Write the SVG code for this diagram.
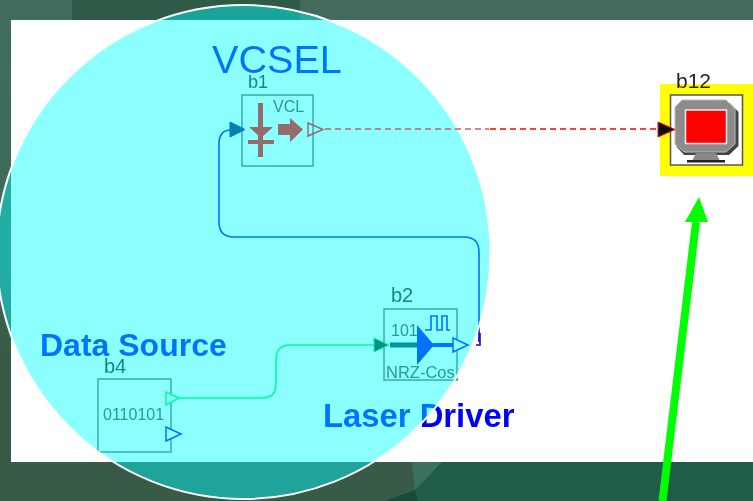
<svg xmlns="http://www.w3.org/2000/svg" width="753" height="501" viewBox="0 0 753 501">
<defs>
<filter id="soft" x="-5%" y="-5%" width="110%" height="110%"><feGaussianBlur stdDeviation="0.55"/></filter>
<linearGradient id="leftBg" x1="0" y1="0" x2="0" y2="1"><stop offset="0" stop-color="#3f6c5c"/><stop offset="0.55" stop-color="#3f6a5a"/><stop offset="0.7" stop-color="#385a47"/><stop offset="1" stop-color="#385846"/></linearGradient>
</defs>
<style>
.box{fill:none;stroke:#666;stroke-width:1.5}
.name{font:18px "Liberation Sans",Arial,sans-serif;fill:#222}
.big{font:20px "Liberation Sans",Arial,sans-serif;fill:#222}
.small{font:16px "Liberation Sans",Arial,sans-serif;fill:#444}
.title{font-family:"Liberation Sans",Arial,sans-serif;fill:#0000ff}
.port{fill:#fff;stroke-width:1.5}
.vcl{fill:#946c6c;stroke:none}
</style>
<g id="background">
<rect width="753" height="501" fill="#436b5b"/>
<rect width="72" height="501" fill="url(#leftBg)"/>
<rect x="72" width="228" height="30" fill="#2f5a48"/>
<polygon points="0,462 412,462 415,490 385,501 0,501" fill="#385a47"/>
<polygon points="412,462 753,462 753,501 418,501 415,490" fill="#205c4a"/>
<polygon points="412,462 442,462 415,490" fill="#3f705f"/>
<polygon points="385,501 415,490 418,501" fill="#164a3a"/>
<rect x="11" y="20" width="742" height="442" fill="#fff"/>
</g>
<g id="connectors" fill="none" filter="url(#soft)">
<path d="M479 342V252Q479 237 464 237H234Q219 237 219 222V144Q219 130 231 130" stroke="#0000ff" stroke-width="1.6"/>
<path d="M476 345H480V333" stroke="#2200cc" stroke-width="1.6"/>
<path d="M178 398H262Q276 398 276 384V360Q276 345 290 345H376" stroke="#00ff40" stroke-width="1.6"/>
<path d="M490 129H660" stroke="#ff0000" stroke-width="1.3" stroke-dasharray="6 4"/>
<path d="M662.500 501L696 222" stroke="#00ff00" stroke-width="8"/>
<polygon points="699,197 685,222 708,222" fill="#00ff00"/>
</g>
<g id="b1" filter="url(#soft)">
<text class="title" x="212" y="72.500" font-size="39.600">VCSEL</text>
<text class="name" x="248" y="88">b1</text>
<rect class="box" x="242" y="95" width="71" height="71"/>
<polygon points="230,122 230,137 245,129.500" fill="#002050" stroke="#0000ff"/>
<text class="small" x="273" y="112">VCL</text>
</g>
<g id="b2" filter="url(#soft)">
<text class="big" x="391" y="302">b2</text>
<rect class="box" x="384" y="309" width="73" height="71"/>
<polygon points="374,338 374,352 389,345" fill="#003020" stroke="#00ff40"/>
<path d="M390 345H418" stroke="#004050" stroke-width="5"/>
<polygon points="417,325 417,365 434,345" fill="#0000ff"/>
<path d="M433 345H453" stroke="#0000ff" stroke-width="4"/>
<path d="M425 330H431V316H437V330H442V316H447V330H450" fill="none" stroke="#0000ff" stroke-width="1.600"/>
<text class="small" x="391" y="336">101</text>
<text class="small" x="386" y="378" style="font-size:16.500px">NRZ-Cos</text>
<polygon class="port" points="453,338 453,352 468,345" stroke="#0000ff"/>
<text class="title" x="323" y="427" font-size="32.800" font-weight="bold">Laser Driver</text>
</g>
<g id="b4" filter="url(#soft)">
<text class="title" x="40" y="355.500" font-size="32" font-weight="bold">Data Source</text>
<text class="big" x="104" y="373">b4</text>
<rect class="box" x="98" y="379" width="73" height="73"/>
<text class="small" x="103" y="420">0110101</text>
<polygon class="port" points="166,392 166,405 179,398" stroke="#00ff40"/>
<polygon class="port" points="166,427 166,441 181,434" stroke="#0000ff"/>
</g>
<g id="b12" filter="url(#soft)">
<rect x="660" y="84" width="93" height="92" fill="#ffff00"/>
<text class="big" x="676" y="88" style="font-size:21px">b12</text>
<rect x="670.500" y="95" width="72" height="70" fill="#fff" stroke="#555" stroke-width="1.500"/>
<polygon points="680,103 730,103 738.500,112 738.500,146 729,155 684,155 676,146 676,110" fill="#444"/>
<polygon points="682,100 726,100 735,109 735,144 726,152 684,152 675,144 675,107" fill="#8c8c8c" stroke="#bbb"/>
<rect x="685.500" y="110" width="41" height="33.500" fill="#ff0000" stroke="#eee" stroke-width="1.500"/>
<polygon points="696,153 716,153 720,161 692,161" fill="#888"/>
<rect x="687" y="160" width="38" height="2.500" fill="#222"/>
<polygon points="658,122 658,137 675,129.500" fill="#111" stroke="#ff0000"/>
</g>
<circle id="lens" cx="243.500" cy="252" r="247" fill="#00ffff" fill-opacity="0.45" stroke="#fff" stroke-width="2"/>
<g id="connector-over-lens" fill="none">
<path d="M325 129H489" stroke="#c06060" stroke-width="1.300" stroke-dasharray="6 4"/>
</g>
<g id="b1-icon" filter="url(#soft)">
<rect class="vcl" x="258" y="103" width="5" height="54"/>
<polygon class="vcl" points="249,127 273,127 261,138"/>
<rect class="vcl" x="248" y="140" width="26" height="4"/>
<polygon class="vcl" points="278,124 290,124 290,118 303,129.500 290,142 290,135 278,135"/>
<polygon points="308,123 308,136 323,129.500" fill="none" stroke="#946c6c" stroke-width="1.500"/>
</g>
</svg>
